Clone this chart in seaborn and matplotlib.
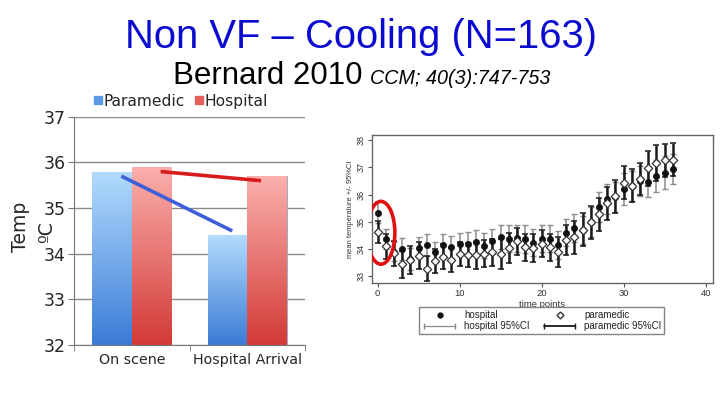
import numpy as np
import pandas as pd
import seaborn as sns
import matplotlib
matplotlib.use("Agg")
import matplotlib.pyplot as plt
from matplotlib.patches import Ellipse
from matplotlib.lines import Line2D
from matplotlib.legend_handler import HandlerLine2D
from matplotlib.colors import LinearSegmentedColormap

# ---------------- data ----------------
categories = ["On scene", "Hospital Arrival"]
groups = ["Paramedic", "Hospital"]
paramedic_temp = [35.8, 34.4]
hospital_temp = [35.9, 35.7]
paramedic_trend = [35.7, 34.5]
hospital_trend = [35.8, 35.6]
left_yticks = [32, 33, 34, 35, 36, 37]

time_points = list(range(37))
hospital_mean = [35.34, 34.37, 33.90, 34.02, 33.63, 34.06, 34.15, 33.91, 34.17, 34.09,
                 34.20, 34.18, 34.26, 34.13, 34.29, 34.44, 34.38, 34.40, 34.37, 34.24,
                 34.39, 34.38, 34.15, 34.60, 34.78, 34.70, 34.98, 35.54, 35.82, 35.91,
                 36.20, 36.32, 36.48, 36.46, 36.68, 36.80, 36.94]
paramedic_mean = [34.63, 34.10, 33.85, 33.45, 33.60, 33.76, 33.29, 33.57, 33.73, 33.60,
                  33.83, 33.79, 33.78, 33.83, 33.88, 33.83, 34.04, 34.29, 34.07, 34.04,
                  34.20, 34.07, 33.91, 34.32, 34.44, 34.71, 34.98, 35.28, 35.68, 35.94,
                  36.43, 36.32, 36.57, 36.96, 37.15, 37.26, 37.27]
hospital_ci = [0.40, 0.35, 0.35, 0.40, 0.40, 0.40, 0.40, 0.35, 0.40, 0.40,
               0.40, 0.45, 0.45, 0.45, 0.45, 0.45, 0.50, 0.50, 0.50, 0.50,
               0.50, 0.50, 0.50, 0.50, 0.50, 0.50, 0.55, 0.55, 0.55, 0.55,
               0.60, 0.55, 0.55, 0.55, 0.60, 0.60, 0.55]
paramedic_ci = [0.40, 0.45, 0.45, 0.50, 0.50, 0.50, 0.45, 0.45, 0.45, 0.45,
                0.45, 0.45, 0.50, 0.50, 0.50, 0.55, 0.55, 0.50, 0.50, 0.50,
                0.50, 0.50, 0.55, 0.55, 0.60, 0.60, 0.60, 0.60, 0.60, 0.60,
                0.60, 0.60, 0.60, 0.65, 0.65, 0.60, 0.60]
right_yticks = [33, 34, 35, 36, 37, 38]
right_xticks = [0, 10, 20, 30, 40]

# ---------------- figure ----------------
sns.set_style("white")
plt.rcParams["font.family"] = ["Liberation Sans", "DejaVu Sans"]
fig = plt.figure(figsize=(7.2, 4.05), dpi=100)
fig.patch.set_facecolor("white")

fig.text(0.502, 0.908, "Non VF \u2013 Cooling (N=163)", ha="center", va="center",
         fontsize=28.8, color="#0b0bd0")
fig.text(0.503, 0.812, "Bernard 2010", ha="right", va="center", fontsize=22.5, color="black")
fig.text(0.514, 0.806, "CCM; 40(3):747-753", ha="left", va="center", fontsize=14.2,
         style="italic", color="black")

DV = "DejaVu Sans"

# ---------------- left bar chart ----------------
axL = fig.add_axes([0.1028, 0.148, 0.3208, 0.5637])
df = pd.DataFrame({
    "cat": categories * 2,
    "grp": [groups[0]] * 2 + [groups[1]] * 2,
    "val": paramedic_temp + hospital_temp,
})
sns.barplot(data=df, x="cat", y="val", hue="grp", palette=["#5b9be6", "#e4605c"],
            width=0.68, gap=0, ax=axL, legend=False, zorder=2)

grads = [("#3b7bd6", "#b2dbfd"), ("#d23a36", "#fbb0ad")]
for cont, (cbot, ctop) in zip(axL.containers, grads):
    cmap = LinearSegmentedColormap.from_list("g", [cbot, ctop])
    for p in cont.patches:
        x0, w, h = p.get_x(), p.get_width(), p.get_height()
        p.set_edgecolor("#9aaac0")
        p.set_linewidth(0.6)
        im = axL.imshow(np.linspace(0, 1, 256).reshape(-1, 1), cmap=cmap, origin="lower",
                        extent=[x0, x0 + w, 32, h], aspect="auto", zorder=2.5)
        im.set_clip_path(p)

axL.plot([-0.09, 0.87], paramedic_trend, color="#3e5fd8", lw=2.6, zorder=4,
         solid_capstyle="butt")
axL.plot([0.25, 1.12], hospital_trend, color="#d81c1c", lw=2.6, zorder=4,
         solid_capstyle="butt")

axL.set_xlim(-0.5, 1.5)
axL.set_ylim(32, 37)
axL.set_yticks(left_yticks)
axL.set_yticklabels([str(v) for v in left_yticks], fontsize=12.5, family=DV)
axL.yaxis.grid(True, color="#8a8a8a", lw=1.0, zorder=0)
axL.set_axisbelow(True)
for s in ["top", "right"]:
    axL.spines[s].set_visible(False)
axL.spines["left"].set_color("#777777")
axL.spines["bottom"].set_color("#777777")
axL.tick_params(axis="y", which="major", length=4, color="#777777", pad=2, left=True)
axL.set_xticks([0, 1])
axL.set_xticklabels(categories, fontsize=10.3, family=DV)
axL.tick_params(axis="x", which="major", length=0, pad=6)
axL.set_xticks([-0.5, 0.5, 1.5], minor=True)
axL.tick_params(axis="x", which="minor", length=4, color="#777777", bottom=True)
axL.set_xlabel("")
axL.set_ylabel("")

fig.text(0.029, 0.44, "Temp", rotation=90, ha="center", va="center", fontsize=13.5,
         family=DV)
fig.text(0.065, 0.428, "\u00baC", rotation=90, ha="center", va="center", fontsize=13.5,
         family=DV)

hL = [Line2D([], [], marker="s", ls="none", color="#5b9be6", markersize=5.5),
      Line2D([], [], marker="s", ls="none", color="#e4605c", markersize=5.5)]
fig.legend(hL, groups, loc="center", bbox_to_anchor=(0.250, 0.750), ncol=2,
           frameon=False, prop={"family": DV, "size": 11.2}, handletextpad=0.0,
           columnspacing=0.6, handlelength=0.7)

# ---------------- right CI chart ----------------
axR = fig.add_axes([0.5162, 0.3012, 0.474, 0.3654])
tp = np.array(time_points)
axR.errorbar(tp, hospital_mean, yerr=hospital_ci, fmt="none", ecolor="#8c8c8c",
             elinewidth=1.1, capsize=2.5, capthick=1.0, zorder=2)
axR.errorbar(tp, paramedic_mean, yerr=paramedic_ci, fmt="none", ecolor="#1a1a1a",
             elinewidth=1.8, capsize=2.5, capthick=1.1, zorder=3)
rdf = pd.DataFrame({"t": list(tp) * 2,
                    "m": hospital_mean + paramedic_mean,
                    "g": ["hospital"] * len(tp) + ["paramedic"] * len(tp)})
sns.scatterplot(data=rdf[rdf.g == "hospital"], x="t", y="m", marker="o", color="#111111",
                s=20, edgecolor="#111111", linewidth=0.5, ax=axR, zorder=5, legend=False)
sns.scatterplot(data=rdf[rdf.g == "paramedic"], x="t", y="m", marker="D", color="white",
                s=18, edgecolor="#333333", linewidth=0.9, ax=axR, zorder=6, legend=False)

axR.add_patch(Ellipse((0.4, 34.6), 3.4, 2.3, fill=False, edgecolor="#e01010", lw=2.6,
                      zorder=7))

axR.set_xlim(-0.73, 40.9)
axR.set_ylim(32.76, 38.18)
axR.set_xticks(right_xticks)
axR.set_xticklabels([str(v) for v in right_xticks], fontsize=6.8, color="#333333")
axR.set_yticks(right_yticks)
axR.set_yticklabels([str(v) for v in right_yticks], fontsize=6.5, color="#333333",
                    rotation=90, va="center")
axR.tick_params(axis="both", length=3, color="#555555", pad=1.0, bottom=True, left=True)
for s in axR.spines.values():
    s.set_color("#666666")
    s.set_linewidth(1.0)
axR.set_xlabel("time points", fontsize=6.8, color="#333333", labelpad=1.5)
axR.set_ylabel("mean temperature +/- 95%CI", fontsize=5.4, color="#333333", labelpad=2)

h_pt = Line2D([], [], marker="o", ls="none", color="#111111", markersize=3.5)
p_pt = Line2D([], [], marker="D", ls="none", markerfacecolor="white",
              markeredgecolor="#333333", markersize=3.5)
h_ci = Line2D([], [], marker="|", ls="-", color="#8c8c8c", lw=0.9, markersize=5)
p_ci = Line2D([], [], marker="|", ls="-", color="#1a1a1a", lw=1.3, markersize=5)
leg = fig.legend([h_pt, h_ci, p_pt, p_ci],
                 ["hospital", "hospital 95%CI", "paramedic", "paramedic 95%CI"],
                 loc="center", bbox_to_anchor=(0.752, 0.208), ncol=2, fontsize=7,
                 handlelength=3.8, handletextpad=0.6, columnspacing=1.2, labelspacing=0.1,
                 borderpad=0.3, fancybox=False, edgecolor="#666666",
                 handler_map={h_pt: HandlerLine2D(numpoints=1),
                              p_pt: HandlerLine2D(numpoints=1),
                              h_ci: HandlerLine2D(numpoints=2),
                              p_ci: HandlerLine2D(numpoints=2)})
leg.get_frame().set_linewidth(1.0)
for t in leg.get_texts():
    t.set_color("#222222")

fig.savefig("out.png", dpi=100, facecolor="white")
